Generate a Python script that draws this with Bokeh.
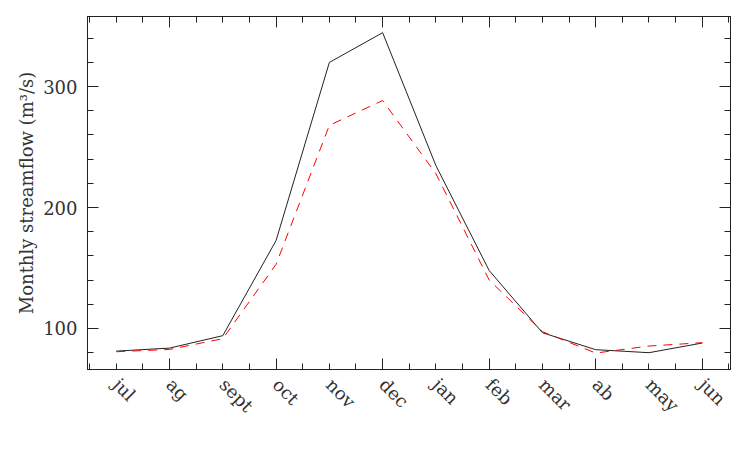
import math
from bokeh.plotting import figure
from bokeh.models import (LinearAxis, SingleIntervalTicker, FixedTicker, Range1d,
                          ColumnDataSource, CustomLabelingPolicy)
from bokeh.embed import file_html
from bokeh.resources import INLINE

# ---- data ----
months = ["jul", "ag", "sept", "oct", "nov", "dec", "jan", "feb", "mar", "ab", "may", "jun"]
month_pos = [1, 2, 3, 4, 5, 6, 7, 8, 9, 10, 11, 12]
observed = [81.2, 83.7, 94.0, 172.7, 320.0, 344.6, 234.7, 147.9, 96.4, 82.4, 79.9, 87.9]
simulated = [80.7, 82.6, 91.5, 153.0, 268.0, 288.5, 228.0, 140.0, 97.3, 79.6, 85.4, 88.2]
y_label = "Monthly streamflow (m³/s)"

src = ColumnDataSource(dict(x=month_pos, obs=observed, sim=simulated))

FONT = "DejaVu Serif"
INK = "#222222"
TXT = "#333333"

p = figure(width=746, height=454, output_backend="svg", toolbar_location=None,
           x_range=Range1d(0.46, 12.53), y_range=Range1d(66, 358),
           x_axis_location=None, y_axis_location=None,
           min_border_left=87, min_border_right=16, min_border_top=16, min_border_bottom=85)
p.xgrid.grid_line_color = None
p.ygrid.grid_line_color = None
p.outline_line_color = INK
p.outline_line_width = 1
p.background_fill_color = "white"
p.border_fill_color = "white"

NO_LABELS = "const n = indices.size; for (let i = 0; i < n; i++) { indices.unset(i) } return indices"


def tick_axis(ticker):
    return LinearAxis(ticker=ticker, major_tick_in=11, major_tick_out=0,
                      minor_tick_in=6, minor_tick_out=0,
                      major_tick_line_color=INK, minor_tick_line_color=INK,
                      axis_line_color=INK,
                      major_label_policy=CustomLabelingPolicy(code=NO_LABELS),
                      major_label_text_font_size="0px", major_label_standoff=0)


# left axis with labels
left = LinearAxis(ticker=SingleIntervalTicker(interval=100, num_minor_ticks=5),
                  major_tick_in=11, major_tick_out=0, minor_tick_in=6, minor_tick_out=0,
                  major_tick_line_color=INK, minor_tick_line_color=INK, axis_line_color=INK,
                  major_label_standoff=10,
                  major_label_text_font=FONT, major_label_text_font_size="18px",
                  major_label_text_color=TXT,
                  axis_label=y_label, axis_label_standoff=3,
                  axis_label_text_font=FONT, axis_label_text_font_size="18px",
                  axis_label_text_font_style="normal", axis_label_text_color=TXT)
p.add_layout(left, "left")

# right axis: ticks only
p.add_layout(tick_axis(SingleIntervalTicker(interval=100, num_minor_ticks=5)), "right")

# top axis: ticks only
p.add_layout(tick_axis(SingleIntervalTicker(interval=2, num_minor_ticks=4)), "above")

# bottom: ticks axis, then month label axis
p.add_layout(tick_axis(SingleIntervalTicker(interval=2, num_minor_ticks=4)), "below")
lab = LinearAxis(ticker=FixedTicker(ticks=month_pos, minor_ticks=[]),
                 major_tick_in=0, major_tick_out=0, minor_tick_in=0, minor_tick_out=0,
                 axis_line_color=None,
                 major_label_overrides={m: t for m, t in zip(month_pos, months)},
                 major_label_orientation=-math.pi / 4,
                 major_label_standoff=12,
                 major_label_text_font=FONT, major_label_text_font_size="18px",
                 major_label_text_color=TXT)
p.add_layout(lab, "below")

p.line(x="x", y="obs", source=src, line_color=INK, line_width=1)
p.line(x="x", y="sim", source=src, line_color="red", line_width=1, line_dash="9 7")

open("out.html", "w").write(file_html(p, INLINE))
